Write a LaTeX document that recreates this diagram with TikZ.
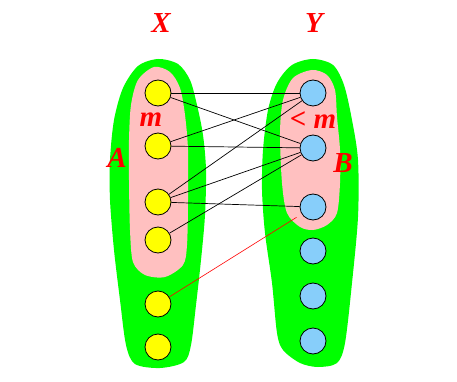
\documentclass[tikz,border=0pt]{standalone}
\usepackage{fontspec}
\setmainfont{Liberation Serif}
\usetikzlibrary{positioning}
\definecolor{setgreen}{RGB}{0,255,0}
\definecolor{setpink}{RGB}{255,192,192}
\definecolor{dotyellow}{RGB}{255,255,0}
\definecolor{dotblue}{RGB}{135,206,250}

\begin{document}
\begin{tikzpicture}[x=1pt,y=-1pt,
    vx/.style={circle,draw,line width=0.8pt,fill=dotyellow,minimum size=26pt,inner sep=0pt},
    vy/.style={vx,fill=dotblue},
    lbl/.style={text=red,font=\fontsize{29}{29}\selectfont\bfseries\itshape},
    edge/.style={line width=0.7pt}]
    \useasboundingbox (0,0) rectangle (457,382);

    % Draw the two green sets and their pink parts
    \fill[setgreen] plot[smooth cycle] coordinates {(158,59) (178,64) (190,80) (197,105) (203,135) (206,170) (205,215) (201,260) (196,305) (191,345) (184,362) (160,368) (135,364) (126,345) (120,300) (114,250) (110,200) (110,160) (114,120) (123,88) (138,66)};
    \fill[setpink] plot[smooth cycle] coordinates {(154,67) (170,72) (180,88) (185,115) (188,150) (188,200) (187,245) (183,265) (165,277) (145,275) (133,262) (130,230) (129,180) (129,140) (131,105) (138,80)};
    \fill[setgreen] plot[smooth cycle] coordinates {(313,59) (333,65) (344,85) (352,120) (358,160) (358,217) (352,283) (345,343) (337,363) (318,367) (300,363) (283,350) (277,333) (272,283) (265,233) (262,190) (263,150) (268,110) (277,83) (292,65)};
    \fill[setpink] plot[smooth cycle] coordinates {(312,70) (327,75) (335,90) (337,117) (340,150) (340,183) (337,213) (327,225) (313,230) (300,227) (287,213) (282,183) (280,133) (283,100) (293,78)};

    % Vertices
    \foreach \i/\yy in {1/93,2/146,3/202,4/240,5/304,6/347} {
        \node[vx] (x\i) at (158,\yy) {};
    }
    \foreach \i/\yy in {1/93,2/148,3/207,4/251,5/296,6/341} {
        \node[vy] (y\i) at (313,\yy) {};
    }

    % Edges
    \foreach \a/\b in {1/1,1/2,2/1,2/2,3/1,3/2,3/3,4/2} {
        \draw[edge] (x\a) -- (y\b);
    }
    \draw[red,line width=0.6pt,shorten >=6pt] (x5) -- (y3);

    % Labels
    \node[lbl] (xlab) at (161,23) {X};
    \node[lbl] (ylab) at (314,23) {Y};
    \node[lbl] (mlab) at (151,120) {m};
    \node[lbl] (nlab) at (313,120) {< m};
    \node[lbl] (alab) at (117,158) {A};
    \node[lbl] (blab) at (343,163) {B};
\end{tikzpicture}
\end{document}
